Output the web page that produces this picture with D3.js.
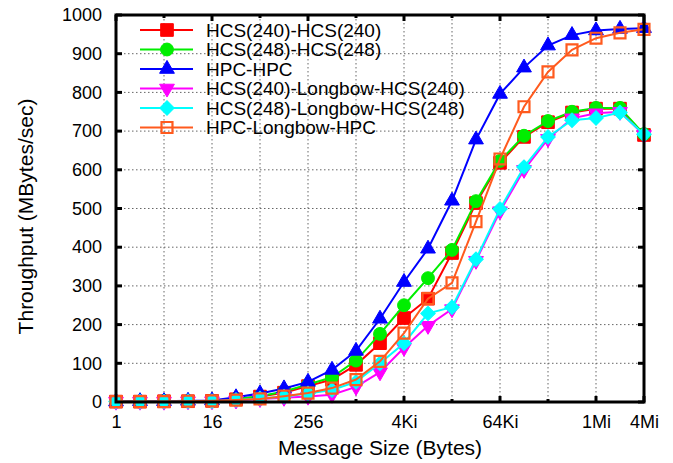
<!DOCTYPE html>
<html>
<head>
<meta charset="utf-8">
<script src="https://cdn.jsdelivr.net/npm/d3@7/dist/d3.min.js"></script>
<style>
  html, body { margin: 0; padding: 0; background: #fff; }
  svg text { font-family: "Liberation Sans", Arial, Helvetica, sans-serif; fill: #000; }
</style>
</head>
<body>
<svg id="chart" width="673" height="463"></svg>
<script>
// Message sizes in bytes (2^0 .. 2^22)
const sizes = [1, 2, 4, 8, 16, 32, 64, 128, 256, 512, 1024, 2048, 4096, 8192,
  16384, 32768, 65536, 131072, 262144, 524288, 1048576, 2097152, 4194304];

// Throughput in MBytes/sec for each configuration
const hcs240 = [1, 1, 2, 2, 3, 7, 14, 24, 41, 58, 96, 152, 217, 267, 385, 514, 618, 685, 723, 748, 758, 758, 690];
const hcs248 = [1, 1, 2, 2, 3, 8, 15, 27, 45, 64, 107, 176, 250, 320, 393, 519, 623, 688, 726, 750, 760, 760, 692];
const hpc = [1, 2, 2, 3, 4, 12, 22, 35, 52, 83, 132, 215, 310, 396, 520, 678, 796, 864, 921, 948, 960, 964, 966];
const hcs240Longbow = [1, 1, 1, 2, 2, 4, 8, 11, 14, 19, 39, 77, 140, 197, 240, 365, 493, 600, 680, 733, 746, 750, 690];
const hcs248Longbow = [1, 1, 1, 2, 2, 5, 9, 14, 22, 31, 52, 100, 152, 229, 245, 369, 499, 607, 685, 728, 734, 748, 692];
const hpcLongbow = [1, 1, 1, 2, 3, 5, 8, 15, 23, 36, 58, 105, 178, 267, 308, 466, 628, 763, 853, 910, 940, 954, 963];

const seriesNames = ["HCS(240)-HCS(240)", "HCS(248)-HCS(248)", "HPC-HPC",
  "HCS(240)-Longbow-HCS(240)", "HCS(248)-Longbow-HCS(248)", "HPC-Longbow-HPC"];
const seriesValues = [hcs240, hcs248, hpc, hcs240Longbow, hcs248Longbow, hpcLongbow];

const xTickValues = [1, 4, 16, 64, 256, 1024, 4096, 16384, 65536, 262144, 1048576, 4194304];
const xTickLabels = {1: "1", 16: "16", 256: "256", 4096: "4Ki", 65536: "64Ki", 1048576: "1Mi", 4194304: "4Mi"};
const yTickValues = [0, 100, 200, 300, 400, 500, 600, 700, 800, 900, 1000];

const styles = [
  {color: "#ff0000", shape: "square", filled: true},
  {color: "#00ee00", shape: "circle", filled: true},
  {color: "#0000ff", shape: "triangle", filled: true},
  {color: "#ff00ff", shape: "triangleDown", filled: true},
  {color: "#00ffff", shape: "diamond", filled: true},
  {color: "#ff5a1e", shape: "square", filled: false}
];

const svg = d3.select("#chart");
const L = 116, R = 644, T = 15, B = 402;

const x = d3.scaleLog().base(2).domain([1, 4194304]).range([L, R]);
const y = d3.scaleLinear().domain([0, 1000]).range([B, T]);

// grid
const grid = svg.append("g").attr("stroke", "#666").attr("stroke-width", 1).attr("stroke-dasharray", "1.5,2.5");
grid.selectAll(".gx").data(xTickValues.slice(1, -1)).join("line")
  .attr("x1", d => x(d)).attr("x2", d => x(d)).attr("y1", T).attr("y2", B);
grid.selectAll(".gy").data(yTickValues.slice(1, -1)).join("line")
  .attr("x1", L).attr("x2", R).attr("y1", d => y(d)).attr("y2", d => y(d));

// axes with inward ticks
const axisFmt = d => xTickLabels[d] || "";
const xBottom = svg.append("g").attr("transform", `translate(0,${B})`)
  .call(d3.axisBottom(x).tickValues(xTickValues).tickFormat(axisFmt).tickSizeInner(0).tickSizeOuter(0));
xBottom.select(".domain").remove();
xBottom.selectAll("text").attr("font-size", 18).attr("y", 13);
xBottom.selectAll(".tick line").remove();

const yLeft = svg.append("g").attr("transform", `translate(${L},0)`)
  .call(d3.axisLeft(y).tickValues(yTickValues).tickFormat(d3.format("d"))
    .tickSizeInner(0).tickSizeOuter(0).tickPadding(14));
yLeft.select(".domain").remove();
yLeft.selectAll(".tick line").remove();
yLeft.selectAll("text").attr("font-size", 18);

const ticks = svg.append("g").attr("stroke", "#000").attr("stroke-width", 3);
xTickValues.forEach(v => {
  const len = xTickLabels[v] ? 6 : 3;
  ticks.append("line").attr("x1", x(v)).attr("x2", x(v)).attr("y1", B).attr("y2", B - len);
  ticks.append("line").attr("x1", x(v)).attr("x2", x(v)).attr("y1", T).attr("y2", T + len);
});
yTickValues.forEach(v => {
  ticks.append("line").attr("x1", L).attr("x2", L + 6).attr("y1", y(v)).attr("y2", y(v));
  ticks.append("line").attr("x1", R).attr("x2", R - 6).attr("y1", y(v)).attr("y2", y(v));
});

// axis titles
svg.append("text").attr("x", (L + R) / 2).attr("y", 455).attr("text-anchor", "middle")
  .attr("font-size", 21).text("Message Size (Bytes)");
svg.append("text").attr("transform", `translate(33,${(T + B) / 2 + 8}) rotate(-90)`)
  .attr("text-anchor", "middle").attr("font-size", 21).text("Throughput (MBytes/sec)");

// marker drawing
function marker(sel, st) {
  let path, rot = 0;
  if (st.shape === "square") path = d3.symbol(d3.symbolSquare, st.filled ? 160 : 120)();
  else if (st.shape === "circle") path = d3.symbol(d3.symbolCircle, 130)();
  else if (st.shape === "triangle") path = d3.symbol(d3.symbolTriangle, 95)();
  else if (st.shape === "triangleDown") { path = d3.symbol(d3.symbolTriangle, 95)(); rot = 180; }
  else if (st.shape === "diamond") { path = d3.symbol(d3.symbolSquare, 105)(); rot = 45; }
  sel.attr("d", path)
    .attr("fill", st.filled ? st.color : "none")
    .attr("stroke", st.color)
    .attr("stroke-width", st.filled ? 1 : 2.2);
  return rot;
}

const line = d3.line().x((d, i) => x(sizes[i])).y(d => y(d));

seriesValues.forEach((vals, k) => {
  const st = styles[k];
  const g = svg.append("g");
  g.append("path").datum(vals).attr("d", line)
    .attr("fill", "none").attr("stroke", st.color).attr("stroke-width", 2);
  g.selectAll("path.m").data(vals).join("path").attr("class", "m")
    .each(function (d, i) {
      const rot = marker(d3.select(this), st);
      d3.select(this).attr("transform", `translate(${x(sizes[i])},${y(d)}) rotate(${rot})`);
    });
});

// legend
const lg = svg.append("g");
seriesNames.forEach((name, k) => {
  const st = styles[k];
  const yy = 30 + k * 19.5;
  lg.append("line").attr("x1", 140).attr("x2", 193).attr("y1", yy).attr("y2", yy)
    .attr("stroke", st.color).attr("stroke-width", 2);
  const m = lg.append("path");
  const rot = marker(m, st);
  m.attr("transform", `translate(167,${yy}) rotate(${rot})`);
  lg.append("text").attr("x", 206).attr("y", yy + 6.5).attr("font-size", 19).text(name);
});

// frame
svg.append("rect").attr("x", L).attr("y", T).attr("width", R - L).attr("height", B - T)
  .attr("fill", "none").attr("stroke", "#000").attr("stroke-width", 3);
</script>
</body>
</html>
